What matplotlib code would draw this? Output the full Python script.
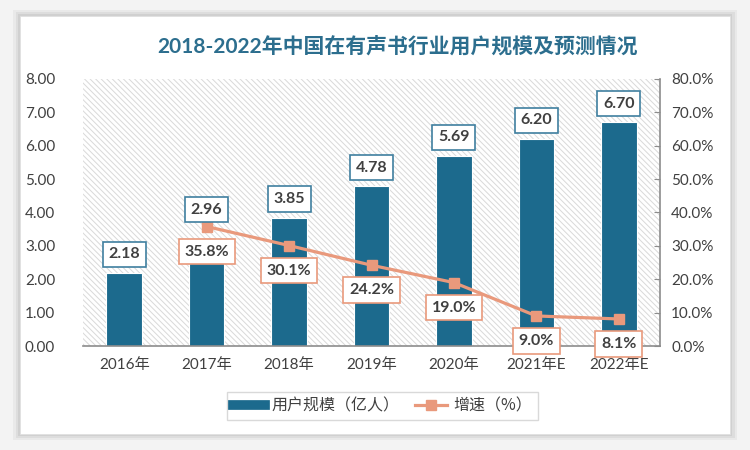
import matplotlib
matplotlib.use("Agg")
import matplotlib.pyplot as plt
from matplotlib.patches import Rectangle
from matplotlib.lines import Line2D
from matplotlib.ticker import FuncFormatter

plt.rcParams['font.family'] = ['Noto Sans CJK SC', 'DejaVu Sans']
plt.rcParams['hatch.linewidth'] = 0.7

# data
years = ["2016年", "2017年", "2018年", "2019年", "2020年", "2021年E", "2022年E"]
users = [2.18, 2.96, 3.85, 4.78, 5.69, 6.20, 6.70]
growth_years = ["2017年", "2018年", "2019年", "2020年", "2021年E", "2022年E"]
growth = [35.8, 30.1, 24.2, 19.0, 9.0, 8.1]

BAR_COLOR = "#1c6a8d"
LINE_COLOR = "#e9997c"
TEXT_COLOR = "#404040"
NUM_FONT = ["Lato", "DejaVu Sans"]
MIX_FONT = ["Lato", "Noto Sans CJK SC", "DejaVu Sans"]

fig = plt.figure(figsize=(7.5, 4.5), dpi=100)
fig.patch.set_facecolor("#f3f3f3")

# card with soft shadow
for i, a in enumerate([0.04, 0.05, 0.06]):
    d = (3 - i) * 0.003
    fig.patches.append(Rectangle((20 / 750 - d, 16 / 450 - d * 1.6), 710 / 750 + 2 * d, 418 / 450 + 2 * d * 1.6,
                                 transform=fig.transFigure, facecolor="#000000", alpha=a,
                                 edgecolor="none", zorder=-3))
fig.patches.append(Rectangle((20 / 750, 16 / 450), 710 / 750, 418 / 450, transform=fig.transFigure,
                             facecolor="white", edgecolor="#e0e0e0", linewidth=0.6, zorder=-2))

ax = fig.add_axes([83 / 750, 1 - 346 / 450, 577 / 750, 267 / 450])
ax.set_facecolor("none")
ax.add_patch(Rectangle((0, 0), 1, 1, transform=ax.transAxes, facecolor="white",
                       edgecolor="#d9d9d9", hatch="\\\\\\\\\\\\", linewidth=0, zorder=0))

x = list(range(len(years)))
ax.bar(x, users, width=0.43, color=BAR_COLOR, edgecolor="white", linewidth=0.8, zorder=2)
ax.set_ylim(0, 8)
ax.set_xlim(-0.5, len(years) - 0.5)
ax.set_yticks([0, 1, 2, 3, 4, 5, 6, 7, 8])
ax.yaxis.set_major_formatter(FuncFormatter(lambda v, p: f"{v:.2f}"))
ax.set_xticks(x)
ax.set_xticklabels(years)
ax.tick_params(axis="y", length=0, labelsize=11, colors=TEXT_COLOR, pad=20)
ax.tick_params(axis="x", length=0, labelsize=11, colors=TEXT_COLOR, pad=9)
for s in ["top", "left", "right"]:
    ax.spines[s].set_visible(False)
ax.spines["bottom"].set_color("#8c8c8c")
ax.spines["bottom"].set_linewidth(1.2)

ax2 = ax.twinx()
ax2.set_zorder(ax.get_zorder() + 1)
gx = [years.index(y) for y in growth_years]
ax2.plot(gx, [g / 100 for g in growth], color=LINE_COLOR, linewidth=2.3, marker="s",
         markersize=7.5, zorder=3)
ax2.set_ylim(0, 0.8)
ax2.set_yticks([i / 10 for i in range(9)])
ax2.yaxis.set_major_formatter(FuncFormatter(lambda v, p: f"{v * 100:.1f}%"))
ax2.tick_params(axis="y", direction="in", length=4, labelsize=11, pad=8,
                color="#8c8c8c", labelcolor=TEXT_COLOR)
for s in ["top", "left", "bottom"]:
    ax2.spines[s].set_visible(False)
ax2.spines["right"].set_color("#8c8c8c")
ax2.spines["right"].set_linewidth(1.2)

# bar value labels (drawn on ax2 so they sit above the line); 2017 lifted clear of the marker
for xi, v in zip(x, users):
    lift = 27 if years[xi] == "2017年" else 13.5
    ax2.annotate(f"{v:.2f}", (xi, v / 10), xytext=(0, lift), textcoords="offset points",
                 ha="center", va="center", fontsize=11.5, fontweight="bold", color=TEXT_COLOR,
                 family=NUM_FONT, zorder=5,
                 bbox=dict(boxstyle="square,pad=0.36", facecolor="white", edgecolor="#3f7f9f", linewidth=1.2))

for xi, g in zip(gx, growth):
    ax2.annotate(f"{g:.1f}%", (xi, g / 100), xytext=(0, -18), textcoords="offset points",
                 ha="center", va="center", fontsize=11.5, fontweight="bold", color=TEXT_COLOR,
                 family=NUM_FONT, zorder=6,
                 bbox=dict(boxstyle="square,pad=0.36", facecolor="white", edgecolor=LINE_COLOR, linewidth=1.2))

for t in ax.get_yticklabels() + ax2.get_yticklabels():
    t.set_family(NUM_FONT)
for t in ax.get_xticklabels():
    t.set_family(MIX_FONT)

fig.text(0.53, 0.895, "2018-2022年中国在有声书行业用户规模及预测情况", ha="center", va="center",
         fontsize=15, fontweight="bold", color="#2c6e8e", family=MIX_FONT)

handles = [Line2D([], [], color=BAR_COLOR, linewidth=7),
           Line2D([], [], color=LINE_COLOR, linewidth=2.3, marker="s", markersize=7.5)]
leg = fig.legend(handles, ["用户规模（亿人）", "增速（%）"], loc="center", bbox_to_anchor=(0.51, 0.098),
                 ncol=2, frameon=True, fancybox=False, fontsize=11.5, handlelength=2.0,
                 handletextpad=0.4, columnspacing=1.0, borderpad=0.35)
leg.get_frame().set_edgecolor("#d0d0d0")
for t in leg.get_texts():
    t.set_color(TEXT_COLOR)

fig.savefig("out.png", dpi=100, facecolor=fig.get_facecolor())
